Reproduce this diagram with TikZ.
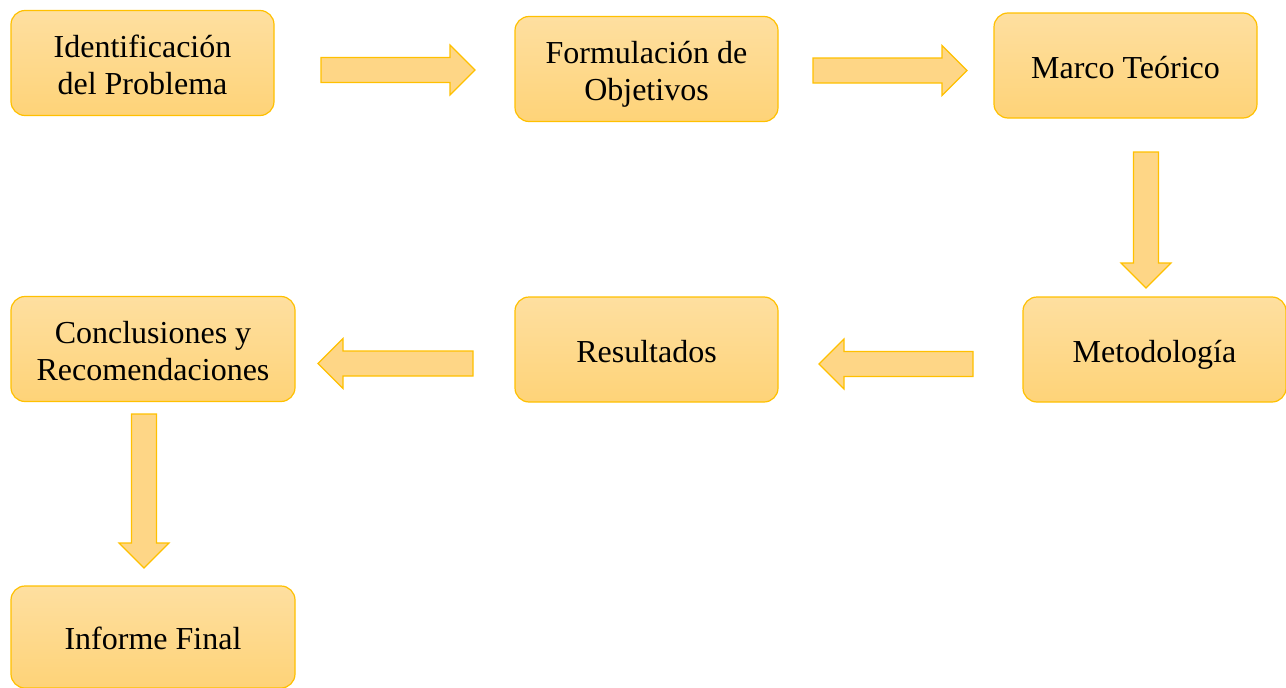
\documentclass[tikz,border=0pt]{standalone}
\usepackage{fontspec}
\setmainfont{Liberation Serif}
\definecolor{boxtop}{RGB}{254,223,160}
\definecolor{boxbot}{RGB}{254,211,120}
\definecolor{boxline}{RGB}{255,192,0}
\definecolor{arrfill}{RGB}{254,214,134}
\tikzset{
  stepbox/.style={draw=boxline, line width=1.2pt, rounded corners=14pt,
    top color=boxtop, bottom color=boxbot, minimum width=263pt, minimum height=105pt,
    align=center, inner sep=0pt, font=\fontsize{32}{37}\selectfont, text=black},
  oneline/.style={text height=27pt, text depth=2pt},
  twoline/.style={text height=64pt, text depth=2pt},
  barr/.style={draw=boxline, fill=arrfill, line width=1.2pt, line join=miter}
}
\newcommand\blockarrow[4]{% #1 name, #2 start, #3 rotation, #4 length
  \begin{scope}[shift={#2},rotate=#3]
    \coordinate (#1-tail) at (0,0);
    \coordinate (#1-tip) at (#4,0);
    \draw[barr] (0,-12.5) -- ({#4-25},-12.5) -- ({#4-25},-25) -- (#4,0)
      -- ({#4-25},25) -- ({#4-25},12.5) -- (0,12.5) -- cycle;
  \end{scope}}
\begin{document}
\begin{tikzpicture}[x=1pt,y=-1pt]
\useasboundingbox (0,0) rectangle (1286,688);
\node[stepbox, twoline] (a) at (142.5,63) {Identificación\\del Problema};
\node[stepbox, twoline] (b) at (646.5,69) {Formulación de\\Objetivos};
\node[stepbox, oneline] (c) at (1125.5,65.5) {Marco Teórico};
\node[stepbox, oneline] (d) at (1154.5,349.5) {Metodología};
\node[stepbox, oneline] (e) at (646.5,349.5) {Resultados};
\node[stepbox, twoline, minimum width=284pt] (f) at (153,349) {Conclusiones y\\Recomendaciones};
\node[stepbox, oneline, minimum width=284pt, minimum height=102pt] (g) at (153,637) {Informe Final};
\blockarrow{ab}{(321,70)}{0}{154}
\blockarrow{bc}{(813,70.5)}{0}{154}
\blockarrow{cd}{(1146,152)}{-90}{136}
\blockarrow{de}{(973,364)}{180}{154}
\blockarrow{ef}{(473,363.5)}{180}{155}
\blockarrow{fg}{(144,414)}{-90}{154}
\end{tikzpicture}
\end{document}
